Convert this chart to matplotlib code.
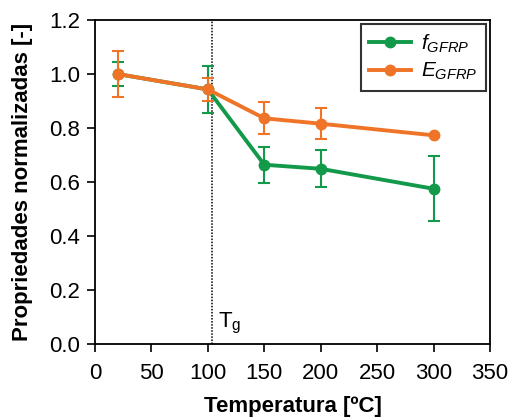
import matplotlib
matplotlib.use("Agg")
import matplotlib.pyplot as plt
import numpy as np

plt.rcParams['font.family'] = ['Liberation Sans', 'DejaVu Sans']
plt.rcParams['mathtext.fontset'] = 'custom'
plt.rcParams['mathtext.rm'] = 'Liberation Sans'
plt.rcParams['mathtext.it'] = 'Liberation Sans:italic'

temps = [20, 100, 150, 200, 300]
f_vals = [1.0, 0.943, 0.664, 0.649, 0.575]
f_err = [0.043, 0.088, 0.067, 0.069, 0.121]
E_vals = [1.0, 0.943, 0.836, 0.816, 0.773]
E_err = [0.085, 0.044, 0.059, 0.058, 0.0]
tg = 104

green = '#13994A'
orange = '#EF7428'

fig = plt.figure(figsize=(5.12, 4.17), dpi=100)
ax = fig.add_axes([0.1855, 0.175, 0.7715, 0.777])

ax.errorbar(temps, f_vals, yerr=f_err, fmt='none', ecolor=green,
            capsize=4.5, elinewidth=1.5, capthick=1.5, zorder=3)
ax.plot(temps, f_vals, color=green, lw=2.8, marker='o', ms=7.5, label=r'$f_{GFRP}$', zorder=3)
ax.errorbar(temps, E_vals, yerr=E_err, fmt='none', ecolor=orange,
            capsize=4.5, elinewidth=1.5, capthick=1.5, zorder=4)
ax.plot(temps, E_vals, color=orange, lw=2.8, marker='o', ms=7.5, label=r'$E_{GFRP}$', zorder=4)

ax.axvline(tg, color='black', ls=(0, (1, 1.0)), lw=1.1, zorder=2)
ax.text(109, 0.06, r'T$_\mathrm{g}$', fontsize=16, ha='left', va='baseline')

ax.set_xlim(0, 350)
ax.set_ylim(0, 1.2)
ax.set_xticks(np.arange(0, 351, 50))
ax.set_yticks(np.arange(0, 1.21, 0.2))
ax.set_yticklabels([f'{v:.1f}' for v in np.arange(0, 1.21, 0.2)])
ax.tick_params(direction='out', length=5.5, width=1.2, labelsize=16, right=False, top=False)
ax.tick_params(axis='x', pad=8)
ax.tick_params(axis='y', pad=5)
for s in ax.spines.values():
    s.set_linewidth(1.3)

ax.set_xlabel('Temperatura [ºC]', fontsize=16, fontweight='bold', labelpad=9)
ax.set_ylabel('Propriedades normalizadas [-]', fontsize=16, fontweight='bold', labelpad=12)

leg = ax.legend(loc='upper right', fontsize=15, frameon=True, fancybox=False,
                edgecolor='black', borderaxespad=0.2, handlelength=2.0,
                handletextpad=0.5, borderpad=0.4, labelspacing=0.3)
leg.get_frame().set_linewidth(1.5)

fig.savefig('out.png', dpi=100)
